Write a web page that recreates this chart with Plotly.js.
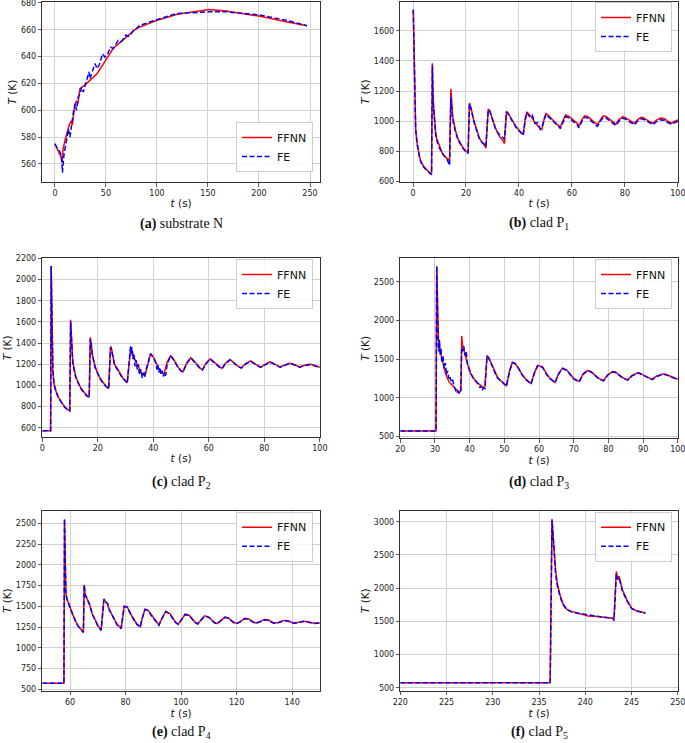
<!DOCTYPE html>
<html><head><meta charset="utf-8">
<script src="https://cdn.plot.ly/plotly-3.0.1.min.js"></script>
<style>html,body{margin:0;padding:0;background:#fff;}#chart{width:685px;height:743px;}</style>
</head><body><div id="chart"></div>
<script>
// ---------- data ----------
// (a) substrate N
const a_ffnn_t = [0,3,6,6.8,8,10,12,14,16,17,19,21,22.5,24.5,29,34,41,47,57,80,100,120,149,151,168,201,227,247];
const a_ffnn_T = [575,570,565,561,571,578,584,589,592,589,601,607,605,616,618.5,622,627,634,646,661,667,671.5,674.5,675,674,670,666,663];
const a_fe_t = [0,1.6,4.9,6.5,7.3,8,9,11.4,13,14.7,16.3,18,19.6,21.2,22.9,24.5,26.1,27.8,29.5,31.7,33.3,34.3,36,39.2,41.5,43.5,46.7,49,51,54.6,57.2,59,62,64.4,66,69.6,71.9,74,76.8,80,83.3,90,99.7,119,148.7,168,201,227,247];
const a_fe_T = [575,572.5,569,565,553.5,560,568,577.5,586,580,591,598,605,600,610,612,617,613.5,618,624.7,628.5,623.5,627,634.7,631,634,642,639.6,641,647,646,648,652,651,652,656,655,656,659.6,661,663.3,665,667.5,672,673.3,673.3,671,667,663];

// (b) clad P1
const b_t = [0.1,0.5,0.8,1,1.5,2,2.5,3,4,5,6,6.8,7.0,7.3,7.6,8,8.5,9,10,11,12,13,13.8,14.3,14.6,15,16,17,18,19,20,20.8,21.3,22,23,24,25,26,27,27.5,28.4,29,30,31,32,33,34,34.5,35.3,36,37,38,39,40,41,41.6,42.4,43,44,45,46,47,48,48.6,49.6,50.2,51,52,53,54,55,55.6,56.8,57.6,59,60,61,62,62.6,63.8,64.8,66,67,68,69,69.6,70.8,71.8,73,74,75,76,76.6,77.8,79.2,80,81,82,83,83.6,84.8,86.2,87,88,89,90,90.6,91.8,93.4,95,96,97,97.6,98.8,100];
const b_ffnn_T = [1740,1300,1050,950,860,800,760,730,700,680,660,648,650,1385,1150,1020,930,880,830,790,765,750,738,1215,1100,1030,940,880,850,820,800,790,1120,1080,1000,940,890,860,840,820,1080,1070,1010,960,920,890,870,850,1065,1050,1020,990,960,940,920,910,1020,1060,1040,1020,990,970,950,940,1020,1050,1040,1020,1000,985,970,960,1010,1040,1030,1015,1000,985,965,1010,1035,1030,1015,1000,990,975,1010,1035,1030,1015,1000,990,980,1010,1030,1025,1015,1005,995,985,1010,1025,1022,1010,1000,992,985,1005,1020,1015,1000,992,985,1000,1008];
const b_fe_T = [1740,1290,1040,945,850,790,755,725,695,675,655,645,650,1370,1120,1000,920,870,820,785,760,740,705,1160,1080,1010,930,875,845,815,795,785,1115,1075,995,935,885,860,845,830,1075,1065,1005,955,925,900,890,880,1060,1045,1015,985,955,935,915,905,1010,1055,1030,1040,985,990,945,955,1010,1045,1030,1015,995,980,965,950,1000,1030,1020,1005,990,975,955,1000,1025,1020,1005,990,980,965,1000,1025,1020,1005,990,980,970,1000,1018,1015,1005,995,985,975,1000,1015,1012,1000,990,982,975,995,1008,1005,992,985,978,990,998];

// (c) clad P2
const c_ffnn_t = [0,3.0,3.2,3.5,3.8,4.2,5,6,7,8,9,9.9,10.2,10.6,11,12,13,14,15,16,16.9,17.3,17.7,18,19,20,21,22,23,23.9,24.6,25,26,27,28,29,30,30.6,31.8,32.5,33,34,35,36,37,38,39,40,41,42,43,43.8,45,46.2,47,48,49,50,50.7,52,53.5,55,56,57,57.7,59,60.5,62,63,64,64.7,66,67.6,69,70,71,71.7,73,75,76,77,78,78.7,80,82,83,84,85,85.7,87,89,90,91,92,92.7,94,96,97,98,99,100];
const c_ffnn_T = [573,573,2128,1500,1150,1020,940,880,840,800,775,760,1620,1350,1220,1090,1020,970,935,905,890,1455,1380,1300,1180,1110,1060,1020,990,970,1370,1340,1200,1160,1110,1070,1045,1025,1340,1320,1260,1210,1160,1110,1090,1200,1300,1270,1210,1160,1120,1105,1220,1280,1260,1210,1170,1140,1130,1210,1262,1220,1185,1160,1148,1210,1252,1220,1190,1170,1160,1210,1245,1215,1190,1175,1165,1200,1232,1215,1195,1180,1172,1195,1222,1212,1195,1182,1175,1190,1210,1205,1192,1180,1175,1185,1200,1197,1188,1180,1172];
const c_fe_t = [0,3.0,3.2,3.5,3.8,4.2,5,6,7,8,9,9.9,10.2,10.6,11,12,13,14,15,16,16.9,17.3,17.7,18,19,20,21,22,23,23.9,24.6,25,26,27,28,29,30,30.6,31.8,32,32.3,32.6,33,33.4,33.8,34.2,34.6,35,35.5,36,36.4,36.8,37.2,38,39,40,40.5,41,41.3,41.7,42,42.4,42.8,43.2,43.6,44,44.4,45,46.2,47,48,49,50,50.7,52,53.5,55,56,57,57.7,59,60.5,62,63,64,64.7,66,67.6,69,70,71,71.7,73,75,76,77,78,78.7,80,82,83,84,85,85.7,87,89,90,91,92,92.7,94,96,97,98,99,100];
const c_fe_T = [573,573,2128,1480,1140,1010,935,875,835,795,770,758,1600,1330,1200,1080,1015,965,930,900,888,1440,1370,1290,1170,1105,1055,1015,985,968,1360,1330,1195,1155,1105,1065,1040,1022,1370,1300,1360,1250,1300,1180,1240,1150,1200,1100,1150,1070,1120,1080,1140,1200,1300,1265,1240,1200,1150,1190,1120,1170,1100,1140,1085,1120,1090,1200,1280,1255,1205,1165,1135,1125,1205,1258,1215,1180,1155,1145,1205,1248,1215,1185,1168,1158,1205,1240,1212,1188,1172,1163,1198,1228,1212,1192,1178,1170,1192,1218,1208,1192,1180,1173,1188,1206,1202,1190,1178,1173,1183,1196,1194,1186,1178,1170];

// (d) clad P3
const d_ffnn_t = [20,30.3,30.5,30.8,31,31.5,32,33,34,35,36,37,37.5,37.7,38,38.5,39,40,41,42,43,44,44.4,45,46,47,48,49,50,50.6,51.5,52.3,53,54,55,56,57,57.7,58.7,59.6,61,62,63,64,64.6,65.7,66.8,68,69,70,71,71.6,72.7,74,75,76,77,78,78.6,79.8,81.2,82,83,84,85,85.6,86.8,88.5,89,90,91,92,92.6,93.8,95.6,96.5,97.5,98.5,99.5,100];
const d_ffnn_T = [573,573,2700,2000,1750,1600,1500,1320,1210,1160,1110,1070,1100,1800,1650,1600,1500,1340,1260,1200,1170,1130,1150,1550,1470,1370,1270,1220,1180,1160,1350,1460,1450,1390,1310,1250,1210,1185,1330,1420,1400,1320,1260,1220,1200,1320,1385,1360,1300,1250,1225,1215,1310,1355,1340,1300,1260,1235,1225,1300,1340,1335,1300,1265,1245,1235,1290,1325,1320,1300,1270,1250,1240,1280,1310,1305,1285,1260,1245,1240];
const d_fe_t = [20,30.3,30.5,30.7,30.9,31.1,31.3,31.5,31.7,32,32.3,32.6,33,33.3,33.6,34,34.3,34.6,35,35.5,36,36.3,36.6,37,37.4,37.7,38,38.3,38.6,39,39.3,39.7,40,40.5,41,41.5,42,42.5,43,43.3,43.6,44,44.4,45,45.5,46,46.5,47,47.5,48,48.5,49,49.5,50,50.6,51.5,52.3,53,54,55,56,57,57.7,58.7,59.6,61,62,63,64,64.6,65.7,66.8,68,69,70,71,71.6,72.7,74,75,76,77,78,78.6,79.8,81.2,82,83,84,85,85.6,86.8,88.5,89,90,91,92,92.6,93.8,95.6,96.5,97.5,98.5,99.5,100];
const d_fe_T = [573,573,2700,1800,1700,1600,1750,1550,1650,1450,1550,1380,1450,1300,1350,1250,1280,1220,1250,1150,1100,1060,1090,1060,1070,1650,1600,1670,1550,1600,1450,1400,1350,1300,1260,1230,1200,1180,1130,1150,1100,1130,1120,1540,1520,1460,1420,1360,1300,1260,1230,1210,1200,1170,1150,1345,1455,1445,1385,1305,1245,1205,1180,1325,1415,1395,1315,1255,1215,1195,1315,1380,1355,1295,1245,1220,1210,1305,1350,1335,1295,1255,1230,1220,1295,1335,1330,1295,1260,1240,1230,1285,1320,1315,1295,1265,1245,1235,1275,1305,1300,1280,1255,1240,1235];

// (e) clad P4
const e_t = [50,57.8,58,58.2,58.5,59,60,61,62,63,64,64.8,65.1,65.4,66,66.6,67,68,69,70,71.2,72.2,73,73.5,74,75,76,77,78.4,79.5,80.5,81,82,83,84,85.3,86,87,88,89,90,91,92,93,94.5,96,97,98,99,100,101.5,103,104,105,106,107,108.5,110,111,112,113,114,115.8,117,118,119,120,121,123,124.5,126,127,128,130,131.5,133,134,135,137,138.5,140,141,142,144,145.5,147,148,149,150];
const e_ffnn_T = [573,573,2550,1800,1650,1580,1480,1400,1320,1260,1220,1190,1760,1650,1600,1560,1520,1410,1330,1270,1215,1590,1550,1530,1470,1400,1330,1280,1235,1500,1495,1470,1400,1340,1290,1255,1360,1465,1455,1410,1360,1310,1275,1350,1440,1410,1360,1310,1285,1330,1405,1390,1350,1310,1290,1330,1385,1370,1335,1305,1292,1320,1370,1360,1330,1305,1295,1310,1355,1345,1310,1298,1310,1340,1335,1305,1298,1305,1330,1325,1305,1298,1305,1320,1315,1300,1295,1298,1300];
const e_fe_T = [573,573,2550,1780,1640,1575,1475,1395,1318,1258,1218,1185,1760,1640,1600,1545,1530,1405,1325,1265,1210,1585,1545,1535,1465,1395,1325,1275,1230,1498,1492,1465,1395,1335,1285,1250,1355,1462,1452,1405,1355,1305,1270,1345,1437,1405,1355,1305,1282,1325,1402,1387,1345,1305,1287,1325,1382,1367,1330,1302,1290,1317,1367,1357,1327,1302,1292,1307,1352,1342,1307,1295,1307,1337,1332,1302,1295,1302,1327,1322,1302,1295,1302,1317,1312,1297,1292,1295,1297];

// (f) clad P5
const f_t = [220,236.2,236.4,236.6,236.8,237,237.3,237.6,238,238.5,239,240,240.3,241,242,243,243.1,243.35,243.5,243.65,244,244.5,245,245.5,246,246.5];
const f_ffnn_T = [573,573,3040,2700,2250,2050,1880,1760,1680,1650,1630,1600,1580,1575,1560,1545,1525,2250,2150,2180,1980,1820,1700,1660,1645,1625];
const f_fe_T = [573,573,3020,2650,2200,2020,1860,1750,1675,1645,1625,1605,1595,1580,1562,1545,1510,2210,2130,2160,1960,1810,1695,1655,1640,1622];

// ---------- layout helpers ----------
const W = 685, H = 743;
const px = (a, b) => [a / W, b / W];
const py = (top, bot) => [1 - bot / H, 1 - top / H];

const panels = [
  {ffT:a_ffnn_t, ffY:a_ffnn_T, feT:a_fe_t, feY:a_fe_T, xd:px(42.3,320), yd:py(2.2,182), xr:[-12.4,259.8], yr:[546.5,680.5], xt0:0, xdt:50, yt0:560, ydt:20,
   leg:{x:313, y:172, xa:'right', ya:'bottom'}, cap:'<b>(a)</b> substrate N', capy:224},
  {ffT:b_t, ffY:b_ffnn_T, feT:b_t, feY:b_fe_T, xd:px(400.3,678), yd:py(1.5,182), xr:[-4.8,100.05], yr:[595,1795], xt0:0, xdt:20, yt0:600, ydt:200,
   leg:{x:672, y:2, xa:'right', ya:'top'}, cap:'<b>(b)</b> clad P<sub>1</sub>', capy:224},
  {ffT:c_ffnn_t, ffY:c_ffnn_T, feT:c_fe_t, feY:c_fe_T, xd:px(42.3,320), yd:py(258.3,437.3), xr:[0,100.05], yr:[510,2200.5], xt0:0, xdt:20, yt0:600, ydt:200,
   leg:{x:313, y:259, xa:'right', ya:'top'}, cap:'<b>(c)</b> clad P<sub>2</sub>', capy:482},
  {ffT:d_ffnn_t, ffY:d_ffnn_T, feT:d_fe_t, feY:d_fe_T, xd:px(400.3,678), yd:py(258.3,438.3), xr:[20,100.05], yr:[479,2802], xt0:20, xdt:10, yt0:500, ydt:500,
   leg:{x:672, y:259, xa:'right', ya:'top'}, cap:'<b>(d)</b> clad P<sub>3</sub>', capy:482},
  {ffT:e_t, ffY:e_ffnn_T, feT:e_t, feY:e_fe_T, xd:px(42.3,320), yd:py(510.7,690.7), xr:[50,150.05], yr:[483,2652], xt0:60, xdt:20, yt0:500, ydt:250,
   leg:{x:313, y:511.7, xa:'right', ya:'top'}, cap:'<b>(e)</b> clad P<sub>4</sub>', capy:732},
  {ffT:f_t, ffY:f_ffnn_T, feT:f_t, feY:f_fe_T, xd:px(400.3,678), yd:py(510.7,690.7), xr:[220,250.02], yr:[455,3166], xt0:220, xdt:5, yt0:500, ydt:500,
   leg:{x:672, y:511.7, xa:'right', ya:'top'}, cap:'<b>(f)</b> clad P<sub>5</sub>', capy:732}
];

const traces = [];
const layout = {
  width: W, height: H, margin: {l:0, r:0, t:0, b:0},
  paper_bgcolor: '#fff', plot_bgcolor: '#fff',
  font: {family: 'DejaVu Sans', size: 8, color: '#222'},
  annotations: []
};

panels.forEach((p, i) => {
  const n = i + 1;
  const xs = n === 1 ? '' : String(n);
  const lg = n === 1 ? 'legend' : 'legend' + n;
  traces.push({x: p.ffT, y: p.ffY, type: 'scatter', mode: 'lines', name: 'FFNN',
    xaxis: 'x' + xs, yaxis: 'y' + xs, legend: lg,
    line: {color: '#ff0000', width: 1.5}});
  traces.push({x: p.feT, y: p.feY, type: 'scatter', mode: 'lines', name: 'FE',
    xaxis: 'x' + xs, yaxis: 'y' + xs, legend: lg,
    line: {color: '#0000ff', width: 1.5, dash: '5px,2.5px'}});
  const common = {showline: true, mirror: true, linecolor: '#333', linewidth: 1,
    ticks: 'outside', ticklen: 3.5, tickwidth: 0.8, tickcolor: '#333',
    showgrid: true, gridcolor: '#d0d0d0', gridwidth: 1, zeroline: false,
    ticklabeloverflow: 'allow',
    tickfont: {family: 'DejaVu Sans', size: 8, color: '#222'}};
  layout['xaxis' + xs] = Object.assign({}, common, {domain: p.xd, range: p.xr, anchor: 'y' + xs,
    tick0: p.xt0, dtick: p.xdt,
    title: {text: '<i>t</i> (s)', font: {family: 'DejaVu Sans', size: 10.5, color: '#111'}, standoff: 2}});
  layout['yaxis' + xs] = Object.assign({}, common, {domain: p.yd, range: p.yr, anchor: 'x' + xs,
    tick0: p.yt0, dtick: p.ydt,
    title: {text: '<i>T</i> (K)', font: {family: 'DejaVu Sans', size: 10.5, color: '#111'}, standoff: 2}});
  layout[lg] = {x: p.leg.x / W, y: 1 - p.leg.y / H, xanchor: p.leg.xa, yanchor: p.leg.ya,
    bgcolor: 'rgba(255,255,255,0.85)', bordercolor: '#cccccc', borderwidth: 1,
    font: {family: 'DejaVu Sans', size: 11, color: '#111'}, itemwidth: 30, tracegroupgap: 0};
  const cx = (p.xd[0] + p.xd[1]) / 2;
  layout.annotations.push({text: p.cap, x: cx, y: 1 - p.capy / H, xref: 'paper', yref: 'paper',
    xanchor: 'center', yanchor: 'middle', showarrow: false,
    font: {family: 'Liberation Serif', size: 14, color: '#111'}});
});

Plotly.newPlot('chart', traces, layout, {displayModeBar: false, staticPlot: true});
</script>
</body></html>
